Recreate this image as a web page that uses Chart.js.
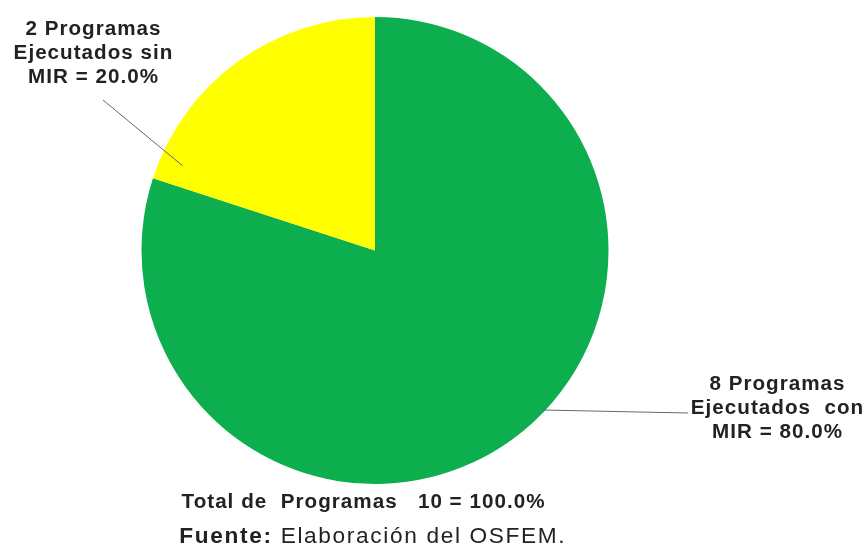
<!DOCTYPE html>
<html><head><meta charset="utf-8">
<script src="https://cdn.jsdelivr.net/npm/chart.js@4/dist/chart.umd.min.js"></script>
<style>html,body{margin:0;padding:0;background:#fff}#wrap{width:866px;height:550px;position:relative}</style>
</head><body><div id="wrap"><canvas id="c" width="866" height="550"></canvas></div>
<script>
const categories = ["Ejecutados con MIR", "Ejecutados sin MIR"];
const programCounts = [8, 2];
const percentLabels = ["80.0%", "20.0%"];
const totalPrograms = 10;
const sliceColors = ["#0DAE4E", "#FFFF00"];

function textWidth(ctx, text, spacing, sx) {
  ctx.letterSpacing = spacing + 'px';
  const w = (ctx.measureText(text).width - spacing) * sx;
  ctx.letterSpacing = '0px';
  return w;
}
function drawText(ctx, text, x, y, spacing, sx, align) {
  const w = textWidth(ctx, text, spacing, sx);
  const x0 = align === 'center' ? x - w / 2 : x;
  ctx.save();
  ctx.letterSpacing = spacing + 'px';
  ctx.textAlign = 'left';
  ctx.translate(x0, y);
  ctx.scale(sx, 1);
  ctx.fillText(text, 0, 0);
  ctx.restore();
  return w;
}

const labelPlugin = {
  id: 'sliceLabels',
  afterDraw(chart) {
    const ctx = chart.ctx;
    const arcs = chart.getDatasetMeta(0).data;
    const anchors = [{f: 0.464, r: 0.99, tx: 688, ty: 413}, {f: 0.08, r: 0.9, tx: 103, ty: 100}];
    const blocks = [
      {x: 777, y: 384, lines: [programCounts[0] + " Programas", "Ejecutados  con", "MIR = " + percentLabels[0]]},
      {x: 93, y: 29, lines: [programCounts[1] + " Programas", "Ejecutados sin", "MIR = " + percentLabels[1]]}
    ];
    ctx.save();
    arcs.forEach((arc, i) => {
      const p = arc.getProps(['x','y','startAngle','endAngle','outerRadius'], true);
      const a = p.startAngle + anchors[i].f * (p.endAngle - p.startAngle);
      const ex = p.x + Math.cos(a) * p.outerRadius * anchors[i].r;
      const ey = p.y + Math.sin(a) * p.outerRadius * anchors[i].r;
      ctx.strokeStyle = '#666';
      ctx.lineWidth = 1;
      ctx.beginPath();
      ctx.moveTo(anchors[i].tx, anchors[i].ty);
      ctx.lineTo(ex, ey);
      ctx.stroke();
    });
    ctx.fillStyle = '#222';
    ctx.textBaseline = 'middle';
    ctx.font = 'bold 20px "Liberation Sans", Arial, sans-serif';
    blocks.forEach(b => b.lines.forEach((t, k) => drawText(ctx, t, b.x, b.y + k * 24, 1.0, 1.03, 'center')));
    drawText(ctx, "Total de  Programas   " + totalPrograms + " = 100.0%", 363, 502, 1.0, 1.03, 'center');
    // Fuente line
    const bold = 'bold 22px "Liberation Sans", Arial, sans-serif';
    const reg = '22px "Liberation Sans", Arial, sans-serif';
    const s1 = "Fuente:", s2 = " Elaboración del OSFEM.";
    const sp = 1.6, sx = 1.03;
    ctx.font = bold; const w1 = textWidth(ctx, s1, sp, sx) + sp * sx;
    ctx.font = reg; const w2 = textWidth(ctx, s2, sp, sx);
    const x0 = 372 - (w1 + w2) / 2;
    ctx.font = bold; drawText(ctx, s1, x0, 537, sp, sx, 'left');
    ctx.font = reg; drawText(ctx, s2, x0 + w1, 537, sp, sx, 'left');
    ctx.restore();
  }
};

new Chart(document.getElementById('c'), {
  type: 'pie',
  data: {
    labels: categories,
    datasets: [{ data: programCounts, backgroundColor: sliceColors, borderWidth: 0 }]
  },
  options: {
    responsive: false,
    animation: false,
    layout: { padding: { left: 0, right: 116, top: 17, bottom: 66 } },
    plugins: { legend: { display: false }, tooltip: { enabled: false } }
  },
  plugins: [labelPlugin]
});
</script></body></html>
